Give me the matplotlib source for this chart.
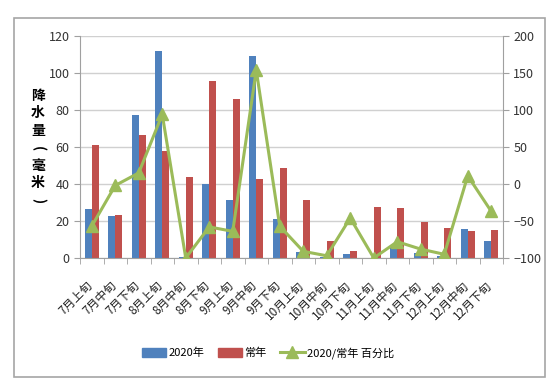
import numpy as np
import matplotlib.pyplot as plt
import matplotlib.transforms as mtransforms
from matplotlib.patches import Rectangle
from matplotlib.lines import Line2D

plt.rcParams['font.family'] = ['Noto Sans CJK SC', 'DejaVu Sans']

periods = ['7月上旬', '7月中旬', '7月下旬', '8月上旬', '8月中旬', '8月下旬',
           '9月上旬', '9月中旬', '9月下旬', '10月上旬', '10月中旬', '10月下旬',
           '11月上旬', '11月中旬', '11月下旬', '12月上旬', '12月中旬', '12月下旬']
rain_2020 = [26.4, 22.8, 77.1, 112.0, 0.3, 40.0, 31.2, 109.0, 21.0,
             3.0, 0.3, 2.2, 0.1, 6.0, 2.5, 1.0, 15.6, 9.2]
rain_normal = [61.0, 23.2, 66.7, 58.0, 44.0, 95.8, 86.0, 42.9, 48.8,
               31.6, 9.3, 3.9, 27.6, 27.0, 19.7, 16.0, 14.4, 15.2]
pct = [-57, -2, 15, 94, -100, -58, -64, 154, -57,
       -91, -97, -46, -100, -78, -88, -95, 11, -37]

c_blue = '#4F81BD'
c_red = '#C0504D'
c_green = '#9BBB59'
c_grid = '#D0D0D0'
c_axis = '#A0A0A0'

fig = plt.figure(figsize=(5.5, 3.79), dpi=100)
fig.patches.append(Rectangle((14 / 550, 2 / 379), 531 / 550, 359 / 379,
                             transform=fig.transFigure, fill=False,
                             edgecolor='#A6A6A6', linewidth=1.2))

ax = fig.add_axes([80 / 550, 1 - 258 / 379, 423 / 550, 222 / 379])
x = np.arange(len(periods))
w = 0.3
ax.bar(x - w / 2, rain_2020, w, color=c_blue, label='2020年', zorder=2)
ax.bar(x + w / 2, rain_normal, w, color=c_red, label='常年', zorder=2)
ax.set_ylim(0, 120)
ax.set_yticks(np.arange(0, 121, 20))
ax.set_xlim(-0.5, len(periods) - 0.5)
ax.set_xticks(x)
ax.set_xticklabels(periods)
ax.set_xticks(np.arange(-0.5, len(periods)), minor=True)
ax.tick_params(axis='x', which='minor', length=4, color=c_axis)
ax.tick_params(axis='x', which='major', length=0, pad=3, labelsize=8.5,
               labelcolor='#222222')
shift = mtransforms.ScaledTranslation(-4 / 72, -12 / 72, fig.dpi_scale_trans)
for lab in ax.get_xticklabels():
    lab.set_rotation(45)
    lab.set_ha('right')
    lab.set_va('top')
    lab.set_rotation_mode('anchor')
    lab.set_transform(lab.get_transform() + shift)
ax.tick_params(axis='y', length=4, color=c_axis, labelsize=9, labelcolor='#333333')
ax.grid(axis='y', color=c_grid, linewidth=1, zorder=0)
ax.set_axisbelow(True)
for s in ['top', 'right']:
    ax.spines[s].set_visible(False)
for s in ['left', 'bottom']:
    ax.spines[s].set_color(c_axis)

# vertical axis title, one character per line
ylab_chars = ['降', '水', '量', '(', '毫', '米', ')']
for i, ch in enumerate(ylab_chars):
    rot = -90 if ch in '()' else 0
    fig.text(38 / 550, 1 - (96 + 17.5 * i) / 379, ch, rotation=rot,
             fontsize=10, fontweight='bold', ha='center', va='center')

ax2 = ax.twinx()
ax2.plot(x, pct, color=c_green, linewidth=2.2, marker='^', markersize=8, zorder=3)
ax2.set_ylim(-100, 200)
ax2.set_yticks(np.arange(-100, 201, 50))
ax2.tick_params(axis='y', length=4, color=c_axis, labelsize=9, labelcolor='#333333')
for s in ['top', 'left', 'bottom']:
    ax2.spines[s].set_visible(False)
ax2.spines['right'].set_color(c_axis)

handles = [Rectangle((0, 0), 1, 1, color=c_blue),
           Rectangle((0, 0), 1, 1, color=c_red),
           Line2D([], [], color=c_green, linewidth=2.2, marker='^', markersize=8)]
fig.legend(handles, ['2020年', '常年', '2020/常年 百分比'], loc='center',
           bbox_to_anchor=(268 / 550, 1 - 353 / 379), ncol=3, frameon=False,
           fontsize=8, handlelength=2.2, handleheight=0.9, columnspacing=1.2,
           handletextpad=0.2)

fig.savefig('out.png', dpi=100)
